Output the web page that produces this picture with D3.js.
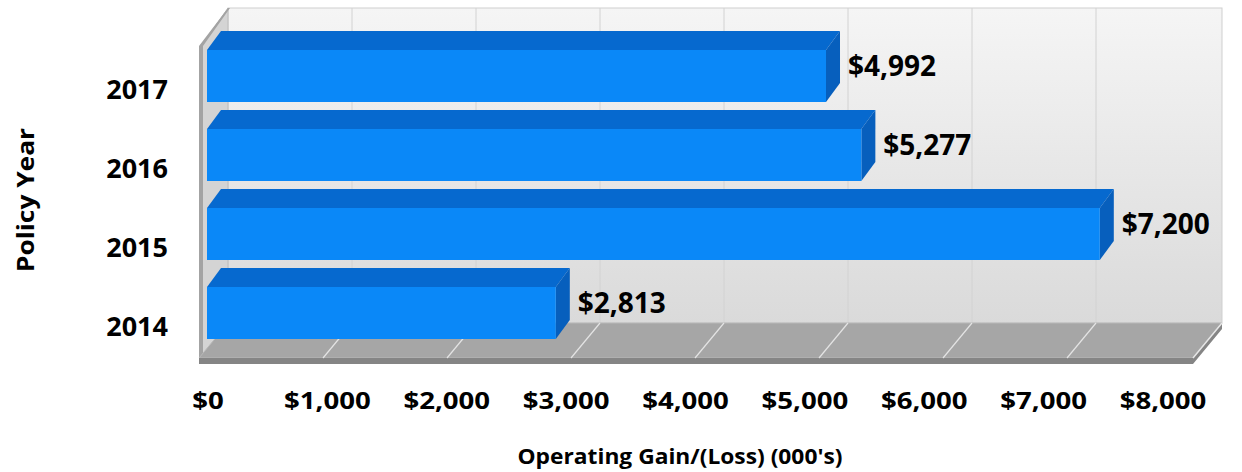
<!DOCTYPE html>
<html>
  <head>
    <meta charset="utf-8">
    <style>
      body { margin: 0; background: #fff; }
      text { font-family: "Open Sans", Lato, sans-serif; font-weight: bold; fill: #000; }
    </style>
    <script src="https://d3js.org/d3.v7.min.js"></script>
  </head>
  <body>
    <svg class="chart" width="1242" height="472"></svg>
    <script>
      // data
      const years = ["2014", "2015", "2016", "2017"];
      const gains = [2813, 7200, 5277, 4992];
      const ticks = [0, 1000, 2000, 3000, 4000, 5000, 6000, 7000, 8000];

      const svg = d3.select(".chart");
      const fmt = v => "$" + d3.format(",")(v);

      // front plane scale, the back wall sits up-right of it
      const x = d3.scaleLinear().domain([0, 8000]).range([207, 1199]);
      const y = d3.scaleBand()
        .domain(years.slice().reverse())
        .range([36.5, 352.5])
        .paddingInner(27 / 79)
        .paddingOuter(27 / 158);

      const wall = {top: 8, bottom: 323, left: 228, right: 1222};
      const depth = {dx: -29, dy: 35};   // back wall -> floor front
      const bar3d = {dx: 14, dy: -19};   // bar front -> bar back
      const backX = v => x(v) + 21;

      const defs = svg.append("defs");
      const grad = defs.append("linearGradient")
        .attr("id", "wallGrad").attr("x1", 0).attr("y1", 0).attr("x2", 0).attr("y2", 1);
      grad.append("stop").attr("offset", "0%").attr("stop-color", "#f5f5f5");
      grad.append("stop").attr("offset", "100%").attr("stop-color", "#dadada");

      // back wall
      svg.append("rect")
        .attr("x", wall.left).attr("y", wall.top)
        .attr("width", wall.right - wall.left).attr("height", wall.bottom - wall.top)
        .attr("fill", "url(#wallGrad)")
        .attr("stroke", "#cfcfcf");

      svg.selectAll(".grid").data(ticks.slice(1, -1)).enter()
        .append("line")
        .attr("class", "grid")
        .attr("x1", d => backX(d)).attr("x2", d => backX(d))
        .attr("y1", wall.top).attr("y2", wall.bottom)
        .attr("stroke", "#d2d2d2");

      // left wall (thin slab)
      const lx = wall.left + depth.dx;
      svg.append("polygon")
        .attr("points", [[wall.left, wall.top], [lx + 3, wall.top + depth.dy + 2], [lx + 3, wall.bottom + depth.dy], [wall.left, wall.bottom]].join(" "))
        .attr("fill", "#d4d4d4").attr("stroke", "#bdbdbd");
      svg.append("polygon")
        .attr("points", [[wall.left, wall.top], [lx, wall.top + depth.dy + 3], [lx, wall.bottom + depth.dy + 6], [lx + 4, wall.bottom + depth.dy + 6], [lx + 4, wall.top + depth.dy + 3], [wall.left + 2, wall.top]].join(" "))
        .attr("fill", "#a3a3a3");

      // floor
      const fy = wall.bottom + depth.dy;
      svg.append("polygon")
        .attr("points", [[wall.left, wall.bottom], [wall.right, wall.bottom], [wall.right + depth.dx, fy], [lx, fy]].join(" "))
        .attr("fill", "#a6a6a6").attr("stroke", "#b8b8b8");
      svg.append("polygon")
        .attr("points", [[lx, fy], [wall.right + depth.dx, fy], [wall.right, wall.bottom], [wall.right, wall.bottom + 6], [wall.right + depth.dx, fy + 6], [lx, fy + 6]].join(" "))
        .attr("fill", "#858585");
      svg.append("line")
        .attr("x1", wall.right + depth.dx).attr("y1", fy)
        .attr("x2", wall.right).attr("y2", wall.bottom)
        .attr("stroke", "#e6e6e6").attr("stroke-width", 1.5);

      svg.selectAll(".fgrid").data(ticks.slice(1, -1)).enter()
        .append("line")
        .attr("class", "fgrid")
        .attr("x1", d => backX(d)).attr("y1", wall.bottom)
        .attr("x2", d => backX(d) + depth.dx).attr("y2", fy)
        .attr("stroke", "#e4e4e4").attr("stroke-width", 1.2);

      // bars
      const data = years.map((d, i) => ({year: d, value: gains[i]}));
      const bars = svg.selectAll(".bar").data(data).enter().append("g").attr("class", "bar");

      bars.append("polygon")
        .attr("points", d => {
          const x0 = x(0), x1 = x(d.value), t = y(d.year);
          return [[x0, t], [x1, t], [x1 + bar3d.dx, t + bar3d.dy], [x0 + bar3d.dx, t + bar3d.dy]].join(" ");
        })
        .attr("fill", "#0669cf");

      bars.append("polygon")
        .attr("points", d => {
          const x1 = x(d.value), t = y(d.year), b = t + y.bandwidth();
          return [[x1, t], [x1 + bar3d.dx, t + bar3d.dy], [x1 + bar3d.dx, b + bar3d.dy], [x1, b]].join(" ");
        })
        .attr("fill", "#075fbd");

      bars.append("rect")
        .attr("x", x(0))
        .attr("y", d => y(d.year))
        .attr("width", d => x(d.value) - x(0))
        .attr("height", y.bandwidth())
        .attr("fill", "#0a88f8");

      bars.append("text")
        .attr("x", d => x(d.value) + bar3d.dx + 8)
        .attr("y", d => y(d.year) + (y.bandwidth() + bar3d.dy) / 2 - 2)
        .attr("dominant-baseline", "central")
        .attr("font-size", 28)
        .text(d => fmt(d.value));

      // category labels
      svg.selectAll(".ylab").data(years).enter()
        .append("text")
        .attr("class", "ylab")
        .attr("x", 168)
        .attr("y", d => y(d) + y.bandwidth() / 2 + 12)
        .attr("text-anchor", "end")
        .attr("dominant-baseline", "central")
        .attr("font-size", 27)
        .text(d => d);

      // x tick labels (drawn a little wide, like the source)
      const xl = d3.scaleLinear().domain([0, 8000]).range([208, 1163]);
      svg.selectAll(".xlab").data(ticks).enter()
        .append("text")
        .attr("class", "xlab")
        .attr("transform", d => `translate(${xl(d)},400) scale(1.2,1)`)
        .attr("text-anchor", "middle")
        .attr("dominant-baseline", "central")
        .attr("font-size", 23)
        .text(d => fmt(d));

      svg.append("text")
        .attr("x", 680).attr("y", 456)
        .attr("text-anchor", "middle")
        .attr("dominant-baseline", "central")
        .attr("font-size", 21)
        .attr("textLength", 325)
        .attr("lengthAdjust", "spacingAndGlyphs")
        .text("Operating Gain/(Loss) (000's)");

      svg.append("text")
        .attr("transform", "translate(25,200) rotate(-90)")
        .attr("text-anchor", "middle")
        .attr("dominant-baseline", "central")
        .attr("font-size", 23)
        .attr("textLength", 144)
        .attr("lengthAdjust", "spacingAndGlyphs")
        .text("Policy Year");
    </script>
  </body>
</html>
